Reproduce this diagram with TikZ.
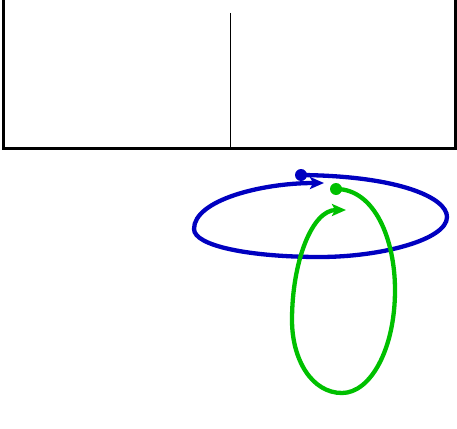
\documentclass[tikz,border=0pt]{standalone}
\usetikzlibrary{arrows.meta}
\definecolor{loopblue}{RGB}{0,0,192}
\definecolor{loopgreen}{RGB}{0,192,0}
\tikzset{
  frame/.style={line width=3pt, line join=miter},
  divider/.style={line width=1pt},
  loopline/.style={line width=4.3pt, -{Stealth[length=14pt,width=12pt,inset=3pt]}},
  dotmark/.style={circle, fill, inner sep=0pt, minimum size=12pt}
}
\begin{document}
\begin{tikzpicture}[x=1pt,y=-1pt]
\useasboundingbox (0,0) rectangle (457,428);
% frame
\draw[frame] (3.5,-2) -- (3.5,148.5) -- (455.5,148.5) -- (455.5,-2);
\draw[divider] (230.5,13) -- (230.5,148);
% blue loop
\coordinate (bs) at (301,175);
\coordinate (be) at (324,183);
\draw[loopline, color=loopblue] (bs)
  .. controls (400,176) and (447,198) .. (447,217)
  .. controls (447,240) and (380,257) .. (320,257)
  .. controls (250,257) and (194,246) .. (194,229)
  .. controls (194,200) and (262,183) .. (be);
\node[dotmark, fill=loopblue] (bdot) at (bs) {};
% green loop
\coordinate (gs) at (336,189);
\coordinate (ge) at (346,210);
\draw[loopline, color=loopgreen] (gs)
  .. controls (375,189) and (395,240) .. (395,290)
  .. controls (395,350) and (370,393) .. (342,393)
  .. controls (312,393) and (292,360) .. (292,320)
  .. controls (292,262) and (312,210) .. (ge);
\node[dotmark, fill=loopgreen] (gdot) at (gs) {};
\end{tikzpicture}
\end{document}
